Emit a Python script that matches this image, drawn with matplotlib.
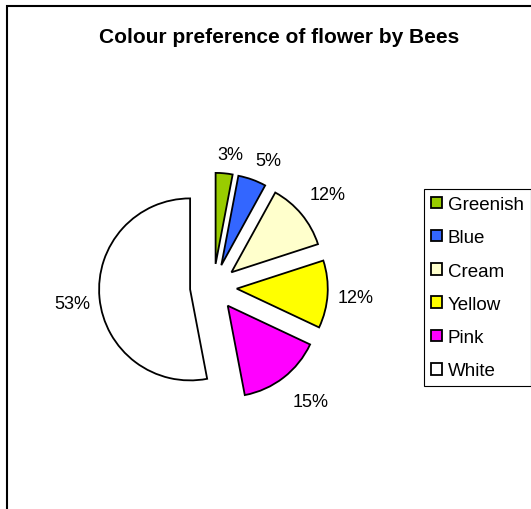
import matplotlib
matplotlib.use("Agg")
import matplotlib.pyplot as plt
import numpy as np

# Survey data: share of bee visits per flower colour
categories = ["Greenish", "Blue", "Cream", "Yellow", "Pink", "White"]
shares = [3, 5, 12, 12, 15, 53]
colours = ["#99CC00", "#3366FF", "#FFFFCC", "#FFFF00", "#FF00FF", "#FFFFFF"]
title = "Colour preference of flower by Bees"

# Layout (pixel units of a 531 x 510 canvas, y pointing up)
W, H = 531, 510
cx, cy = 213.4, H - 288.2
R = 91.0
gap = 23.4
label_dist = [1.47, 1.52, 1.62, 1.57, 1.65, 1.56]
label_shift = [-1.7, -3.5, -0.6, -0.7, 2.5, 1.2]

plt.rcParams["font.family"] = ["Liberation Sans", "DejaVu Sans"]

fig = plt.figure(figsize=(W / 100, H / 100), dpi=100)
ax = fig.add_axes([0, 0, 1, 1])

wedges, _ = ax.pie(
    shares, colors=colours, startangle=90, counterclock=False,
    radius=R, center=(cx, cy), explode=[gap] * len(shares),
    wedgeprops=dict(edgecolor="black", linewidth=1.3, joinstyle="miter"),
)
ax.set_xlim(0, W)
ax.set_ylim(0, H)
ax.set_aspect("auto")
ax.axis("off")

total = sum(shares)
for w, v, d, s in zip(wedges, shares, label_dist, label_shift):
    th = np.deg2rad((w.theta1 + w.theta2) / 2 + s)
    ax.text(cx + d * R * np.cos(th), cy + d * R * np.sin(th),
            f"{v / total * 100:.0f}%", ha="center", va="center", fontsize=13)

ax.text(279.5, H - 43.3, title, ha="center", va="baseline",
        fontsize=15, fontweight="bold")

leg = ax.legend(
    wedges, categories, loc="upper left",
    bbox_to_anchor=(424 / W, 1 - 190 / H), bbox_transform=fig.transFigure,
    frameon=True, fancybox=False, framealpha=1, edgecolor="black",
    borderaxespad=0, borderpad=0.37, handlelength=0.57, handleheight=0.57,
    handletextpad=0.33, labelspacing=0.87, prop=dict(size=13.5),
)
leg.get_frame().set_linewidth(0.8)

# Chart-area frame along the top and left
ax.plot([7, 7, W], [0, H - 7, H - 7], color="black", lw=1.5,
        solid_joinstyle="miter", clip_on=False)

fig.savefig("out.png", dpi=100, facecolor="white")
